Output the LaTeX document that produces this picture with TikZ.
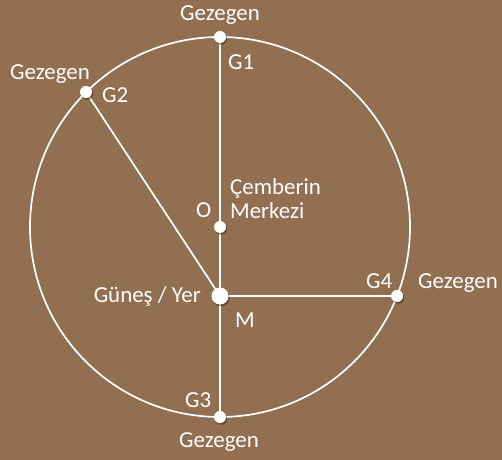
\documentclass[tikz,border=0pt]{standalone}
\usepackage{fontspec}
\setmainfont{Carlito}
\definecolor{leather}{RGB}{146,111,80}
\definecolor{shadowc}{RGB}{45,28,16}
\tikzset{
  dot/.style={circle,fill=white,inner sep=0pt,minimum size=12bp},
  bigdot/.style={circle,fill=white,inner sep=0pt,minimum size=17bp},
  dotshadow/.style={circle,fill=shadowc,fill opacity=0.45,inner sep=0pt},
  lbltext/.style={text=white,font=\fontsize{23}{24}\selectfont,inner sep=0pt},
  wline/.style={white,line width=1.8bp},
  sline/.style={shadowc,draw opacity=0.45,line width=1.8bp}
}
\begin{document}
\begin{tikzpicture}[x=1bp,y=-1bp]
  \useasboundingbox (0,0) rectangle (502,460);
  \fill[leather] (0,0) rectangle (502,460);
  % points
  \coordinate (o) at (220,227);
  \coordinate (g1) at (220,37);
  \coordinate (g2) at (86,92);
  \coordinate (g3) at (220,417);
  \coordinate (g4) at (397,296);
  \coordinate (m) at (220,296);
  % shadows of lines
  \begin{scope}[shift={(1.2,1.8)}]
    \draw[sline] (o) circle[radius=190];
    \draw[sline,line width=1.4bp] (g1) -- (g3);
    \draw[sline] (g2) -- (m) -- (g4);
  \end{scope}
  % lines
  \draw[wline] (o) circle[radius=190];
  \draw[wline,line width=1.4bp] (g1) -- (g3);
  \draw[wline] (g2) -- (m);
  \draw[wline] (m) -- (g4);
  % dot shadows
  \foreach \p in {g1,g2,g3,g4,o}
    \node[dotshadow,minimum size=12bp] at ([shift={(1.2,1.8)}]\p) {};
  \node[dotshadow,minimum size=17bp] at ([shift={(1.2,1.8)}]m) {};
  % dots
  \node[dot] (G1) at (g1) {};
  \node[dot] (G2) at (g2) {};
  \node[dot] (G3) at (g3) {};
  \node[dot] (G4) at (g4) {};
  \node[dot] (O) at (o) {};
  \node[bigdot] (M) at (m) {};
  % labels
  \node[lbltext,anchor=base] (l1) at (220,21) {Gezegen};
  \node[lbltext,anchor=base west] (l2) at (228,70) {G1};
  \node[lbltext,anchor=base] (l3) at (50,80) {Gezegen};
  \node[lbltext,anchor=base west] (l4) at (102,103) {G2};
  \node[lbltext,anchor=base west] (l5) at (196,218) {O};
  \node[lbltext,anchor=base west] (l6) at (230,195) {Çemberin};
  \node[lbltext,anchor=base west] (l7) at (230,219) {Merkezi};
  \node[lbltext,anchor=base east] (l8) at (201,302) {Güneş / Yer};
  \node[lbltext,anchor=base west] (l9) at (235,327) {M};
  \node[lbltext,anchor=base west] (l10) at (366,288) {G4};
  \node[lbltext,anchor=base west] (l11) at (418,288) {Gezegen};
  \node[lbltext,anchor=base west] (l12) at (185,407) {G3};
  \node[lbltext,anchor=base] (l13) at (219,447) {Gezegen};
\end{tikzpicture}
\end{document}
